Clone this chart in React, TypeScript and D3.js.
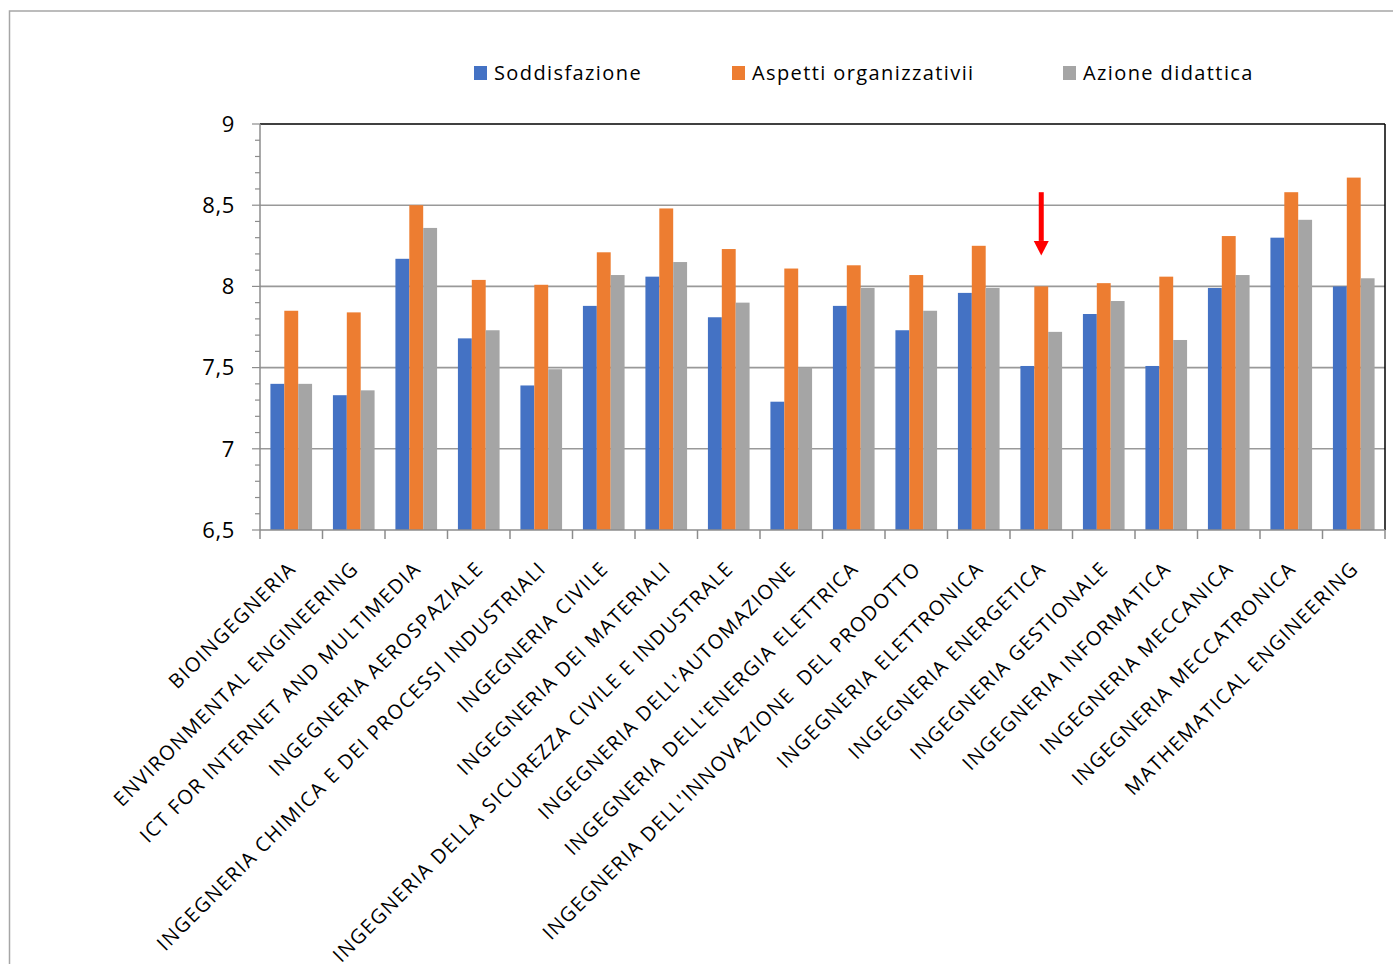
import React, { useEffect, useRef } from 'react';
import * as d3 from 'd3';

const categories = [
  'BIOINGEGNERIA',
  'ENVIRONMENTAL ENGINEERING',
  'ICT FOR INTERNET AND MULTIMEDIA',
  'INGEGNERIA AEROSPAZIALE',
  'INGEGNERIA CHIMICA E DEI PROCESSI INDUSTRIALI',
  'INGEGNERIA CIVILE',
  'INGEGNERIA DEI MATERIALI',
  'INGEGNERIA DELLA SICUREZZA CIVILE E INDUSTRALE',
  "INGEGNERIA DELL'AUTOMAZIONE",
  "INGEGNERIA DELL'ENERGIA ELETTRICA",
  "INGEGNERIA DELL'INNOVAZIONE  DEL PRODOTTO",
  'INGEGNERIA ELETTRONICA',
  'INGEGNERIA ENERGETICA',
  'INGEGNERIA GESTIONALE',
  'INGEGNERIA INFORMATICA',
  'INGEGNERIA MECCANICA',
  'INGEGNERIA MECCATRONICA',
  'MATHEMATICAL ENGINEERING',
];

const seriesNames = ['Soddisfazione', 'Aspetti organizzativii', 'Azione didattica'];
const seriesColors = ['#4472C4', '#ED7D31', '#A5A5A5'];

const soddisfazione = [7.40, 7.33, 8.17, 7.68, 7.39, 7.88, 8.06, 7.81, 7.29, 7.88, 7.73, 7.96, 7.51, 7.83, 7.51, 7.99, 8.30, 8.00];
const aspettiOrganizzativi = [7.85, 7.84, 8.50, 8.04, 8.01, 8.21, 8.48, 8.23, 8.11, 8.13, 8.07, 8.25, 8.00, 8.02, 8.06, 8.31, 8.58, 8.67];
const azioneDidattica = [7.40, 7.36, 8.36, 7.73, 7.49, 8.07, 8.15, 7.90, 7.50, 7.99, 7.85, 7.99, 7.72, 7.91, 7.67, 8.07, 8.41, 8.05];

const yTicks = [6.5, 7, 7.5, 8, 8.5, 9];
const highlighted = 'INGEGNERIA ENERGETICA';

const FONT = "'Open Sans', sans-serif";

export default function App() {
  const ref = useRef<SVGSVGElement>(null);

  useEffect(() => {
    const svg = d3.select(ref.current);
    svg.selectAll('*').remove();

    const left = 260, right = 1385, top = 124, bottom = 530;
    const values = [soddisfazione, aspettiOrganizzativi, azioneDidattica];

    const x0 = d3.scaleBand<string>().domain(categories).range([left, right]).padding(0);
    const x1 = d3.scaleBand<string>().domain(seriesNames).range([0, x0.bandwidth()]).paddingInner(0).paddingOuter(0.75);
    const y = d3.scaleLinear().domain([6.5, 9]).range([bottom, top]);

    // outer frame
    svg.append('rect')
      .attr('x', 9.5).attr('y', 11)
      .attr('width', 1500).attr('height', 1200)
      .attr('fill', 'none').attr('stroke', '#a6a6a6').attr('stroke-width', 1.5);

    // gridlines
    svg.append('g').selectAll('line')
      .data(yTicks.filter(t => t > 6.5 && t < 9))
      .enter().append('line')
      .attr('x1', left).attr('x2', right)
      .attr('y1', d => y(d)).attr('y2', d => y(d))
      .attr('stroke', '#999').attr('stroke-width', 1.6);

    // bars
    const groups = svg.append('g').selectAll('g')
      .data(categories)
      .enter().append('g')
      .attr('transform', d => `translate(${x0(d)},0)`);

    groups.selectAll('rect')
      .data((d, i) => seriesNames.map((s, j) => ({ s, j, v: values[j][i] })))
      .enter().append('rect')
      .attr('x', d => x1(d.s)!)
      .attr('width', x1.bandwidth())
      .attr('y', d => y(d.v))
      .attr('height', d => bottom - y(d.v))
      .attr('fill', d => seriesColors[d.j]);

    // plot border top/right
    svg.append('line').attr('x1', left).attr('x2', right).attr('y1', top).attr('y2', top)
      .attr('stroke', '#000').attr('stroke-width', 1.5);
    svg.append('line').attr('x1', right).attr('x2', right).attr('y1', top).attr('y2', bottom)
      .attr('stroke', '#000').attr('stroke-width', 1.5);

    // y axis with minor ticks
    const yAxis = svg.append('g');
    yAxis.append('line').attr('x1', left).attr('x2', left).attr('y1', top).attr('y2', bottom)
      .attr('stroke', '#8c8c8c').attr('stroke-width', 1.5);
    const minor = d3.range(65, 91).map(v => v / 10);
    yAxis.selectAll('.minor').data(minor).enter().append('line')
      .attr('x1', d => (Math.round(d * 10) % 5 === 0 ? left - 8 : left - 5)).attr('x2', left)
      .attr('y1', d => y(d)).attr('y2', d => y(d))
      .attr('stroke', '#8c8c8c').attr('stroke-width', 1.2);
    yAxis.selectAll('text').data(yTicks).enter().append('text')
      .attr('x', 235).attr('y', d => y(d))
      .attr('dy', '0.35em')
      .attr('text-anchor', 'end')
      .style('font-family', FONT).style('font-size', '22px').style('letter-spacing', '0.6px').attr('fill', '#000')
      .text(d => d3.format('.1~f')(d).replace('.', ','));

    // x axis
    const xAxis = svg.append('g');
    xAxis.append('line').attr('x1', left).attr('x2', right).attr('y1', bottom).attr('y2', bottom)
      .attr('stroke', '#8c8c8c').attr('stroke-width', 1.5);
    xAxis.selectAll('.tick').data([...categories.map(c => x0(c)!), right]).enter().append('line')
      .attr('x1', d => d).attr('x2', d => d).attr('y1', bottom).attr('y2', bottom + 9)
      .attr('stroke', '#8c8c8c').attr('stroke-width', 1.5);
    xAxis.selectAll('text').data(categories).enter().append('text')
      .attr('transform', d => `translate(${x0(d)! + x0.bandwidth() / 2 + 1},565) rotate(-45)`)
      .attr('text-anchor', 'end')
      .attr('dy', '0.35em')
      .style('white-space', 'pre')
      .style('font-family', FONT).style('font-size', '20px').style('letter-spacing', '1.4px').attr('fill', '#000')
      .text(d => d);

    // legend
    const legendX = [474, 732, 1063];
    const legend = svg.append('g').selectAll('g').data(seriesNames).enter().append('g')
      .attr('transform', (d, i) => `translate(${legendX[i]},66)`);
    legend.append('rect').attr('width', 13).attr('height', 14).attr('fill', (d, i) => seriesColors[i]);
    legend.append('text').attr('x', 20).attr('y', 14)
      .style('font-family', FONT).style('font-size', '20px').style('letter-spacing', '1.4px').attr('fill', '#000')
      .text(d => d);

    // red arrow pointing at highlighted orange bar
    const ax = x0(highlighted)! + x1('Aspetti organizzativii')! + x1.bandwidth() / 2;
    const yTop = y(8.58), yHead = y(8.28), yTip = y(8.19);
    svg.append('rect').attr('x', ax - 2.5).attr('y', yTop).attr('width', 5).attr('height', yHead - yTop)
      .attr('fill', '#FF0000');
    svg.append('path')
      .attr('d', `M${ax - 7.5},${yHead} L${ax + 7.5},${yHead} L${ax},${yTip} Z`)
      .attr('fill', '#FF0000');
  }, []);

  return (
    <div>
      <style>{`body{margin:0}`}</style>
      <svg ref={ref} width={1393} height={964} style={{ display: 'block', background: '#fff' }} />
    </div>
  );
}
